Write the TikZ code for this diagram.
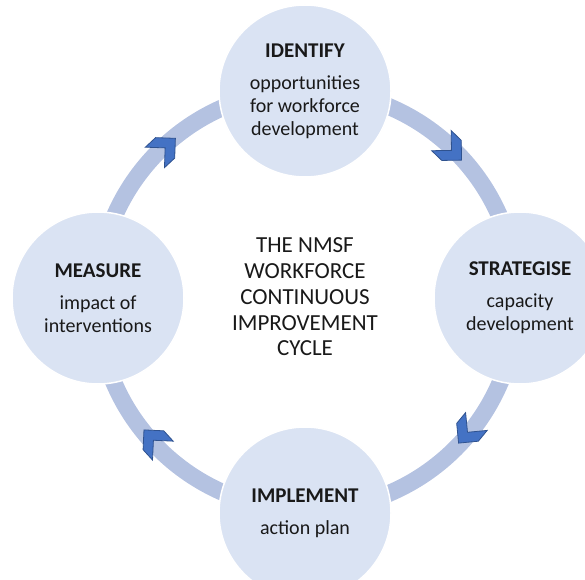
\documentclass[tikz,border=0pt]{standalone}
\usepackage{fontspec}
\setmainfont{Carlito}
\usepackage{xcolor}
\usetikzlibrary{positioning}

\definecolor{ringblue}{RGB}{180,194,225}
\definecolor{stageblue}{RGB}{218,227,243}
\definecolor{chevfill}{RGB}{68,114,196}
\definecolor{chevline}{RGB}{47,82,143}

\tikzset{
	ring/.style={draw=ringblue, line width=17pt},
	stage/.style={circle, fill=stageblue, draw=white, line width=1.5pt, minimum size=172pt, align=center, inner sep=0pt,
		font=\fontsize{20}{23}\selectfont, text=black!90},
	chevron/.style={fill=chevfill, draw=chevline, line width=0.8pt, line join=miter},
	hubtext/.style={align=center, font=\fontsize{23}{25.8}\selectfont, text=black!90}
}
\newcommand{\stagehead}[1]{{\fontsize{21}{23}\selectfont\textbf{#1}}}

\begin{document}
\begin{tikzpicture}[x=1pt, y=1pt]
	\useasboundingbox (0,0) rectangle (585,579);
	
	\coordinate (hub) at (307,279);
	\draw[ring] (hub) circle [radius=210];
	
	\node[stage] (identify) at (305,488) {\stagehead{IDENTIFY}\\[9pt]opportunities\\for workforce\\development};
	\node[stage] (strategise) at (520,281) {\stagehead{STRATEGISE}\\[9pt]capacity\\development};
	\node[stage] (implement) at (305,66) {\stagehead{IMPLEMENT}\\[9pt]action plan};
	\node[stage] (measure) at (98,281) {\stagehead{MEASURE}\\[9pt]impact of\\interventions};
	
	\node[hubtext] (title) at (305,282) {THE NMSF\\WORKFORCE\\CONTINUOUS\\IMPROVEMENT\\CYCLE};
	
	\coordinate (c1) at ([shift={(46:208)}]hub);
	\coordinate (c2) at ([shift={(-39.5:208)}]hub);
	\coordinate (c3) at ([shift={(-137.6:208)}]hub);
	\coordinate (c4) at ([shift={(133:208)}]hub);
	
	\draw[chevron, shift={(c1)}, rotate=-44] (14,0) -- (0,14) -- (-14,14) -- (0,0) -- (-14,-14) -- (0,-14) -- cycle;
	\draw[chevron, shift={(c2)}, rotate=-129.5] (14,0) -- (0,14) -- (-14,14) -- (0,0) -- (-14,-14) -- (0,-14) -- cycle;
	\draw[chevron, shift={(c3)}, rotate=132.4] (14,0) -- (0,14) -- (-14,14) -- (0,0) -- (-14,-14) -- (0,-14) -- cycle;
	\draw[chevron, shift={(c4)}, rotate=43] (14,0) -- (0,14) -- (-14,14) -- (0,0) -- (-14,-14) -- (0,-14) -- cycle;
\end{tikzpicture}
\end{document}
